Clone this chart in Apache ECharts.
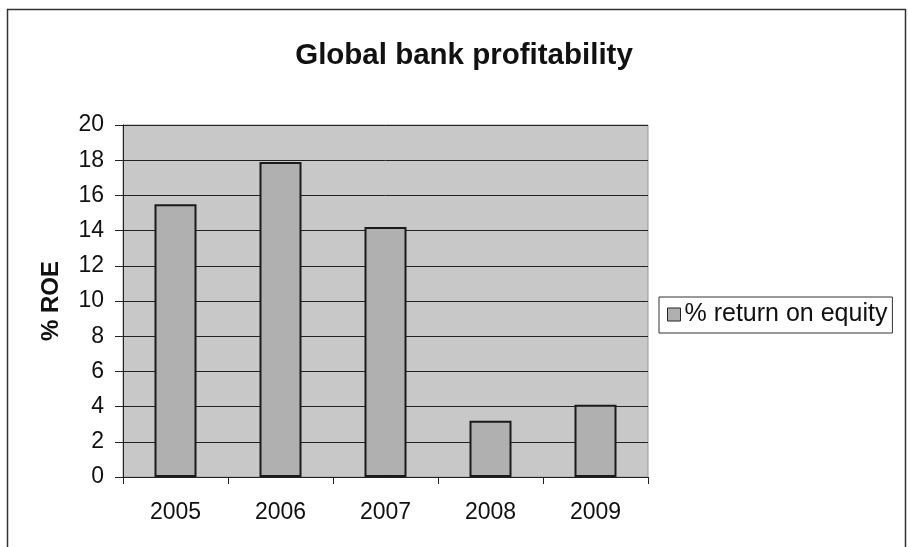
<!DOCTYPE html>
<html><head><meta charset="utf-8">
<script src="https://cdn.jsdelivr.net/npm/echarts@6/dist/echarts.min.js"></script>
<style>html,body{margin:0;padding:0;background:#fff}#c{width:908px;height:547px}</style>
</head><body><div id="c"></div>
<script>
const categories = ['2005', '2006', '2007', '2008', '2009'];
const roeValues = [15.5, 17.9, 14.2, 3.2, 4.1];
const seriesName = '% return on equity';
const chart = echarts.init(document.getElementById('c'));
chart.setOption({
  animation: false,
  backgroundColor: '#fff',
  textStyle: { fontFamily: 'Liberation Sans, Arial, sans-serif' },
  title: {
    text: 'Global bank profitability', left: 459, top: 36, textAlign: 'center',
    textStyle: { fontSize: 29.5, fontWeight: 'bold', color: '#111' }
  },
  graphic: [{ type: 'rect', shape: { x: 7.5, y: 9.5, width: 898, height: 600 }, style: { fill: 'none', stroke: '#333', lineWidth: 1.5 }, z: -1 }],
  legend: {
    orient: 'vertical', left: 659, top: 297, padding: [5, 5, 6, 8],
    borderColor: '#333', borderWidth: 1,
    itemWidth: 13, itemHeight: 13, itemGap: 6,
    textStyle: { fontSize: 25, color: '#111', padding: [0, 0, 0, -1] },
    data: [{ name: seriesName, icon: 'rect', itemStyle: { borderColor: '#222', borderWidth: 1 } }]
  },
  grid: { left: 123, right: 260, top: 125, bottom: 70, show: true, backgroundColor: '#c8c8c8', borderColor: '#999', borderWidth: 1 },
  xAxis: {
    type: 'category', data: categories,
    axisLine: { lineStyle: { color: '#222', width: 1 } },
    axisTick: { show: true, length: 7, lineStyle: { color: '#222' } },
    axisLabel: { fontSize: 23, color: '#111', margin: 24 }
  },
  yAxis: {
    type: 'value', min: 0, max: 20, interval: 2,
    name: '% ROE', nameLocation: 'middle', nameGap: 60, nameRotate: 90,
    nameTextStyle: { fontSize: 24, fontWeight: 'bold', color: '#111' },
    axisLine: { show: true, lineStyle: { color: '#222', width: 1 } },
    axisTick: { show: true, length: 8, lineStyle: { color: '#222' } },
    axisLabel: { fontSize: 23, color: '#111', margin: 19 },
    splitLine: { lineStyle: { color: '#222', width: 1 } }
  },
  series: [{
    name: seriesName, type: 'bar', data: roeValues, barCategoryGap: '60%',
    itemStyle: { color: '#b0b0b0', borderColor: '#1a1a1a', borderWidth: 2 }
  }]
});
</script></body></html>
